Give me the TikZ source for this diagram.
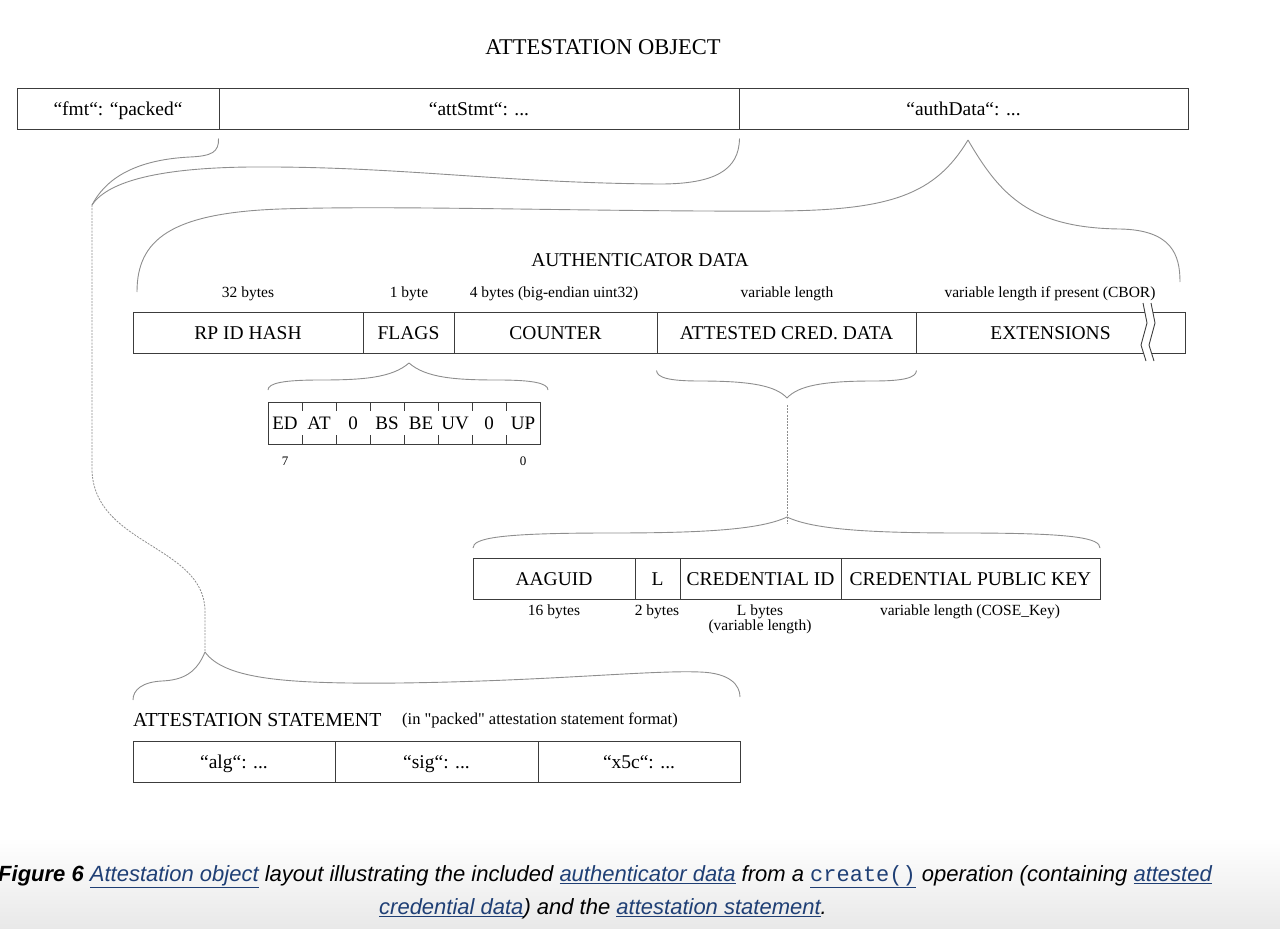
\documentclass[tikz,border=0pt]{standalone}
\usepackage{fontspec}
\setmainfont{Liberation Serif}
\newfontfamily\capfont{Liberation Sans}
\newfontfamily\capmono{Liberation Mono}
\usetikzlibrary{positioning}
\definecolor{boxline}{HTML}{3C3C3C}
\definecolor{bracegray}{HTML}{8E8E8E}
\definecolor{linkblue}{HTML}{1F3F75}
\definecolor{pagegray}{HTML}{E8E8E8}
\newcommand{\lnk}[1]{\textcolor{linkblue}{\underline{#1}}}
\begin{document}
\begin{tikzpicture}[x=1pt,y=-1pt,
	cell/.style={draw=boxline,line width=1pt,minimum height=41pt,inner sep=0pt,text height=13pt,text depth=0pt,font=\fontsize{19.5}{22}\selectfont},
	flagcell/.style={minimum width=34pt,minimum height=42pt,inner sep=0pt,text height=13pt,text depth=0pt,font=\fontsize{19}{22}\selectfont},
	small/.style={inner sep=0pt,font=\fontsize{15.5}{18}\selectfont},
	brace/.style={draw=bracegray,line width=0.9pt},
	dotlink/.style={draw=bracegray,line width=0.8pt,dash pattern=on 2pt off 1.2pt},
	captext/.style={inner sep=0pt,font=\capfont\itshape\fontsize{22}{26}\selectfont}]
	\useasboundingbox (0,0) rectangle (1280,929);
	\shade[top color=white,bottom color=pagegray] (0,838) rectangle (1280,929);

	% attestation object
	\node[inner sep=0pt,font=\fontsize{22.5}{26}\selectfont] (objtitle) at (603,47) {ATTESTATION OBJECT};
	\node[cell,minimum width=202pt] (fmt) at (118,108.5) {“fmt“: “packed“};
	\node[cell,minimum width=520pt] (attstmt) at (479,108.5) {“attStmt“: ...};
	\node[cell,minimum width=449pt] (authdata) at (963.5,108.5) {“authData“: ...};

	\coordinate (stmttip) at (92,205);
	\draw[brace] (attstmt.south west) ++(0,9) .. controls (219,152) and (212,156) .. (190,157) .. controls (130,160) and (104,182) .. (stmttip);
	\draw[brace] (attstmt.south east) ++(0,9) .. controls (739,170) and (715,184) .. (660,184) .. controls (500,183) and (400,166) .. (250,167) .. controls (150,168) and (106,184) .. (stmttip);

	\coordinate (authtip) at (968,140);
	\draw[brace] (authtip) .. controls (935,195) and (890,210) .. (780,211) .. controls (600,212) and (400,205) .. (280,209) .. controls (170,213) and (137,240) .. (137,292);
	\draw[brace] (authtip) .. controls (1000,195) and (1030,228) .. (1120,229) .. controls (1172,230) and (1180,255) .. (1180,282);

	% authenticator data
	\node[inner sep=0pt,font=\fontsize{19.5}{22}\selectfont] (authtitle) at (640,260) {AUTHENTICATOR DATA};
	\node[cell,minimum width=230pt] (rpid) at (248,332.5) {RP ID HASH};
	\node[cell,minimum width=91pt] (flags) at (408.5,332.5) {FLAGS};
	\node[cell,minimum width=203pt] (counter) at (555.5,332.5) {COUNTER};
	\node[cell,minimum width=259pt] (acd) at (786.5,332.5) {ATTESTED CRED. DATA};
	\node[cell,minimum width=269pt] (ext) at (1050.5,332.5) {EXTENSIONS};
	\node[small] (rpidsize) at (248,294) {32 bytes};
	\node[small] (flagssize) at (409,294) {1 byte};
	\node[small] (countersize) at (554,294) {4 bytes (big-endian uint32)};
	\node[small] (acdsize) at (787,294) {variable length};
	\node[small] (extsize) at (1050,294) {variable length if present (CBOR)};

	\fill[white] (1143,303) -- (1147,323) -- (1141,345) -- (1146,361) -- (1154,361) -- (1149,345) -- (1155,323) -- (1151,303) -- cycle;
	\draw[boxline,line width=0.9pt] (1143,303) -- (1147,323) -- (1141,345) -- (1146,361);
	\draw[boxline,line width=0.9pt] (1151,303) -- (1155,323) -- (1149,345) -- (1154,361);

	% flags byte
	\coordinate (flagstip) at (409,363);
	\draw[brace] (flagstip) .. controls (392,378) and (362,380) .. (320,380) .. controls (284,380) and (268,383) .. (268,390);
	\draw[brace] (flagstip) .. controls (426,378) and (456,380) .. (498,380) .. controls (532,380) and (548,383) .. (548,390);
	\draw[boxline,line width=1pt] (268,402) rectangle (540,444);
	\foreach \x in {302,336,...,506}
		\draw[boxline,line width=0.9pt] (\x,402) -- (\x,411) (\x,435) -- (\x,444);
	\foreach \bit [count=\i from 0] in {ED,AT,0,BS,BE,UV,0,UP}
		\node[flagcell] (bit\i) at (285+34*\i,423) {\bit};
	\node[small,font=\fontsize{13}{15}\selectfont] (msb) at (285,461) {7};
	\node[small,font=\fontsize{13}{15}\selectfont] (lsb) at (523,461) {0};

	% attested credential data
	\coordinate (acdtip) at (787,398);
	\draw[brace] (acd.south west) ++(0,17) .. controls (657,378) and (670,381) .. (700,381) .. controls (752,381) and (776,386) .. (acdtip);
	\draw[brace] (acd.south east) ++(0,17) .. controls (916,378) and (903,381) .. (873,381) .. controls (822,381) and (798,386) .. (acdtip);
	\coordinate (credtip) at (787,517);
	\draw[dotlink] (acdtip) ++(0,7) -- ([yshift=-7pt]credtip);
	\draw[brace] (credtip) .. controls (760,530) and (700,533) .. (610,533) .. controls (500,533) and (473,538) .. (473,548);
	\draw[brace] (credtip) .. controls (814,530) and (874,533) .. (964,533) .. controls (1074,533) and (1100,538) .. (1100,548);

	\node[cell,minimum width=162pt] (aaguid) at (554,578.5) {AAGUID};
	\node[cell,minimum width=45pt] (credlen) at (657.5,578.5) {L};
	\node[cell,minimum width=161pt] (credid) at (760.5,578.5) {CREDENTIAL ID};
	\node[cell,minimum width=259pt] (pubkey) at (970.5,578.5) {CREDENTIAL PUBLIC KEY};
	\node[small] (aaguidsize) at (554,612) {16 bytes};
	\node[small] (lensize) at (657,612) {2 bytes};
	\node[small,align=center,font=\fontsize{15.5}{15}\selectfont] (credidsize) at (760,619) {L bytes\\(variable length)};
	\node[small] (pubkeysize) at (970,612) {variable length (COSE\_Key)};

	% attestation statement
	\coordinate (fmttip) at (205,652);
	\draw[dotlink] (stmttip) -- (92,470) .. controls (94,545) and (203,545) .. (205,610) -- (fmttip);
	\draw[brace] (fmttip) .. controls (196,674) and (182,680) .. (162,681) .. controls (142,682) and (133,690) .. (133,700);
	\draw[brace] (fmttip) .. controls (225,680) and (290,684) .. (400,683) .. controls (550,681) and (650,670) .. (700,672) .. controls (730,673) and (740,685) .. (740,697);
	\node[inner sep=0pt,anchor=west,font=\fontsize{19.8}{22}\selectfont] (stmttitle) at (133,720) {ATTESTATION STATEMENT};
	\node[small,anchor=west,font=\fontsize{16.5}{18}\selectfont] (stmtfmt) at (402,720) {(in \textquotedbl packed\textquotedbl\ attestation statement format)};
	\node[cell,minimum width=202pt] (alg) at (234,761.5) {“alg“: ...};
	\node[cell,minimum width=203pt] (sig) at (436.5,761.5) {“sig“: ...};
	\node[cell,minimum width=202pt] (x5c) at (639,761.5) {“x5c“: ...};

	% caption
	\node[captext] (capline1) at (605,877) {\textbf{Figure 6} \lnk{Attestation object} layout illustrating the included \lnk{authenticator data} from a \lnk{\upshape\capmono create()} operation (containing \lnk{attested}};
	\node[captext] (capline2) at (603,909) {\lnk{credential data}) and the \lnk{attestation statement}.};
\end{tikzpicture}
\end{document}
